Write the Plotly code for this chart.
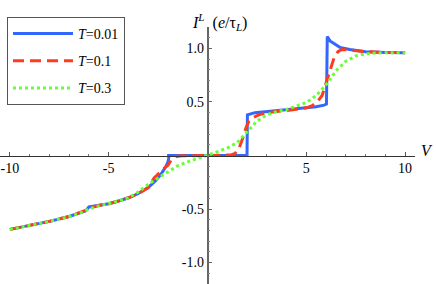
import plotly.graph_objects as go

# T = 0.01
v_t001 = [-10, -9, -8, -7, -6.5, -6.15, -6.0, -5.8, -5.5, -5, -4.5, -4, -3.5, -3, -2.6, -2.3, -2.1, -2.0, -1.97, -1.95,
          2.0, 2.02, 2.4, 3, 4, 5, 5.5, 5.9, 6.02, 6.06, 6.2, 6.4, 6.7, 7.2, 8, 9, 10]
i_t001 = [-0.69, -0.655, -0.615, -0.57, -0.54, -0.515, -0.48, -0.475, -0.465, -0.45, -0.425, -0.395, -0.355, -0.30, -0.23, -0.16, -0.10, -0.06, -0.03, 0.0,
          0.0, 0.38, 0.40, 0.41, 0.425, 0.44, 0.455, 0.47, 0.48, 1.11, 1.07, 1.045, 1.01, 0.99, 0.97, 0.962, 0.96]

# T = 0.1
v_t01 = [-10, -9, -8, -7, -6.5, -6.2, -6.0, -5.8, -5.5, -5, -4.5, -4, -3.5, -3, -2.7, -2.4, -2.2, -2.0, -1.8, -1.6, -1.3,
         0, 1.2, 1.4, 1.6, 1.8, 1.95, 2.1, 2.3, 2.6, 3, 4, 5, 5.3, 5.55, 5.8, 6.0, 6.2, 6.4, 6.6, 6.8, 7.2, 8, 9, 10]
i_t01 = [-0.69, -0.655, -0.615, -0.57, -0.54, -0.515, -0.497, -0.482, -0.467, -0.45, -0.425, -0.395, -0.355, -0.30, -0.21, -0.15, -0.12, -0.09, -0.03, -0.01, -0.003,
         0.0, 0.005, 0.02, 0.07, 0.17, 0.26, 0.32, 0.355, 0.38, 0.40, 0.42, 0.445, 0.465, 0.50, 0.56, 0.67, 0.80, 0.91, 0.97, 0.99, 0.985, 0.97, 0.962, 0.96]

# T = 0.3
v_t03 = [-10, -9, -8, -7, -6.5, -6.0, -5.5, -5, -4.5, -4, -3.5, -3, -2.5, -2, -1.5, -1, -0.5, 0, 0.5, 1, 1.5, 2, 2.5, 3, 3.5,
         4, 4.5, 5, 5.5, 6, 6.5, 7, 7.5, 8, 8.5, 9, 10]
i_t03 = [-0.69, -0.655, -0.615, -0.57, -0.54, -0.50, -0.47, -0.45, -0.425, -0.395, -0.34, -0.27, -0.21, -0.15, -0.095, -0.06, -0.03, 0.0, 0.035, 0.07, 0.12, 0.22, 0.32, 0.38, 0.41,
         0.43, 0.46, 0.495, 0.56, 0.66, 0.79, 0.88, 0.93, 0.95, 0.958, 0.96, 0.96]

x_tickvals = [-10, -5, 5, 10]
x_ticktext = ["-10", "-5", "5", "10"]
y_tickvals = [-1.0, -0.5, 0.5, 1.0]
y_ticktext = ["-1.0", "-0.5", "0.5", "1.0"]

FONT = "Liberation Serif"
W, H = 436, 284
PLOT_TOP = 27          # pixel where the plot area starts
PLOT_RIGHT = 415
ydom_top = (H - PLOT_TOP) / H

fig = go.Figure()
fig.add_trace(go.Scatter(x=v_t001, y=i_t001, mode="lines", name="<i>T</i>=0.01", legendgroup="a",
                         line=dict(color="#3366ff", width=3)))
fig.add_trace(go.Scatter(x=v_t01, y=i_t01, mode="lines", name="<i>T</i>=0.1", legendgroup="b",
                         line=dict(color="#ff3b1f", width=3, dash="11px,6px")))
fig.add_trace(go.Scatter(x=v_t03, y=i_t03, mode="lines", name="<i>T</i>=0.3", legendgroup="c",
                         line=dict(color="#66ff33", width=3, dash="3px,3px")))

fig.update_layout(
    width=W, height=H,
    margin=dict(l=0, r=W - PLOT_RIGHT, t=0, b=0, autoexpand=False),
    plot_bgcolor="white", paper_bgcolor="white",
    font=dict(family=FONT, size=14, color="black"),
    legend=dict(x=7 / PLOT_RIGHT, y=(H - 17) / H, xanchor="left", yanchor="top",
                bordercolor="#555555", borderwidth=1, bgcolor="white",
                font=dict(family=FONT, size=14), tracegroupgap=6, itemwidth=60),
    xaxis=dict(range=[-10.5, 10.5], anchor="free", position=ydom_top / 2, showgrid=False, zeroline=False,
               showline=True, linecolor="#333333", linewidth=1,
               tickmode="array", tickvals=x_tickvals, ticktext=x_ticktext,
               ticks="inside", ticklen=4, tickcolor="#555555",
               minor=dict(tickmode="linear", tick0=0, dtick=1, ticks="inside", ticklen=2, tickcolor="#777777")),
    yaxis=dict(range=[-1.2, 1.2], domain=[0, ydom_top], anchor="free", position=0.5, showgrid=False, zeroline=False,
               showline=True, linecolor="#666666", linewidth=1.5,
               tickmode="array", tickvals=y_tickvals, ticktext=y_ticktext,
               ticks="inside", ticklen=4, tickcolor="#666666",
               minor=dict(tickmode="linear", tick0=0, dtick=0.1, ticks="inside", ticklen=2, tickcolor="#888888")),
    annotations=[
        dict(text="<i>I</i><sup><i>L</i></sup>  (<i>e</i>/τ<sub><i>L</i></sub>)", xref="paper", yref="paper",
             x=219 / PLOT_RIGHT, y=(H - 9) / H, showarrow=False, font=dict(family=FONT, size=16)),
        dict(text="<i>V</i>", xref="paper", yref="paper", x=427 / PLOT_RIGHT, y=(H - 150) / H,
             xanchor="center", showarrow=False, font=dict(family=FONT, size=16)),
    ],
)

fig.write_html("out.html", config={"displayModeBar": False},
               post_script="document.body.style.margin='0';document.body.style.padding='0';")
